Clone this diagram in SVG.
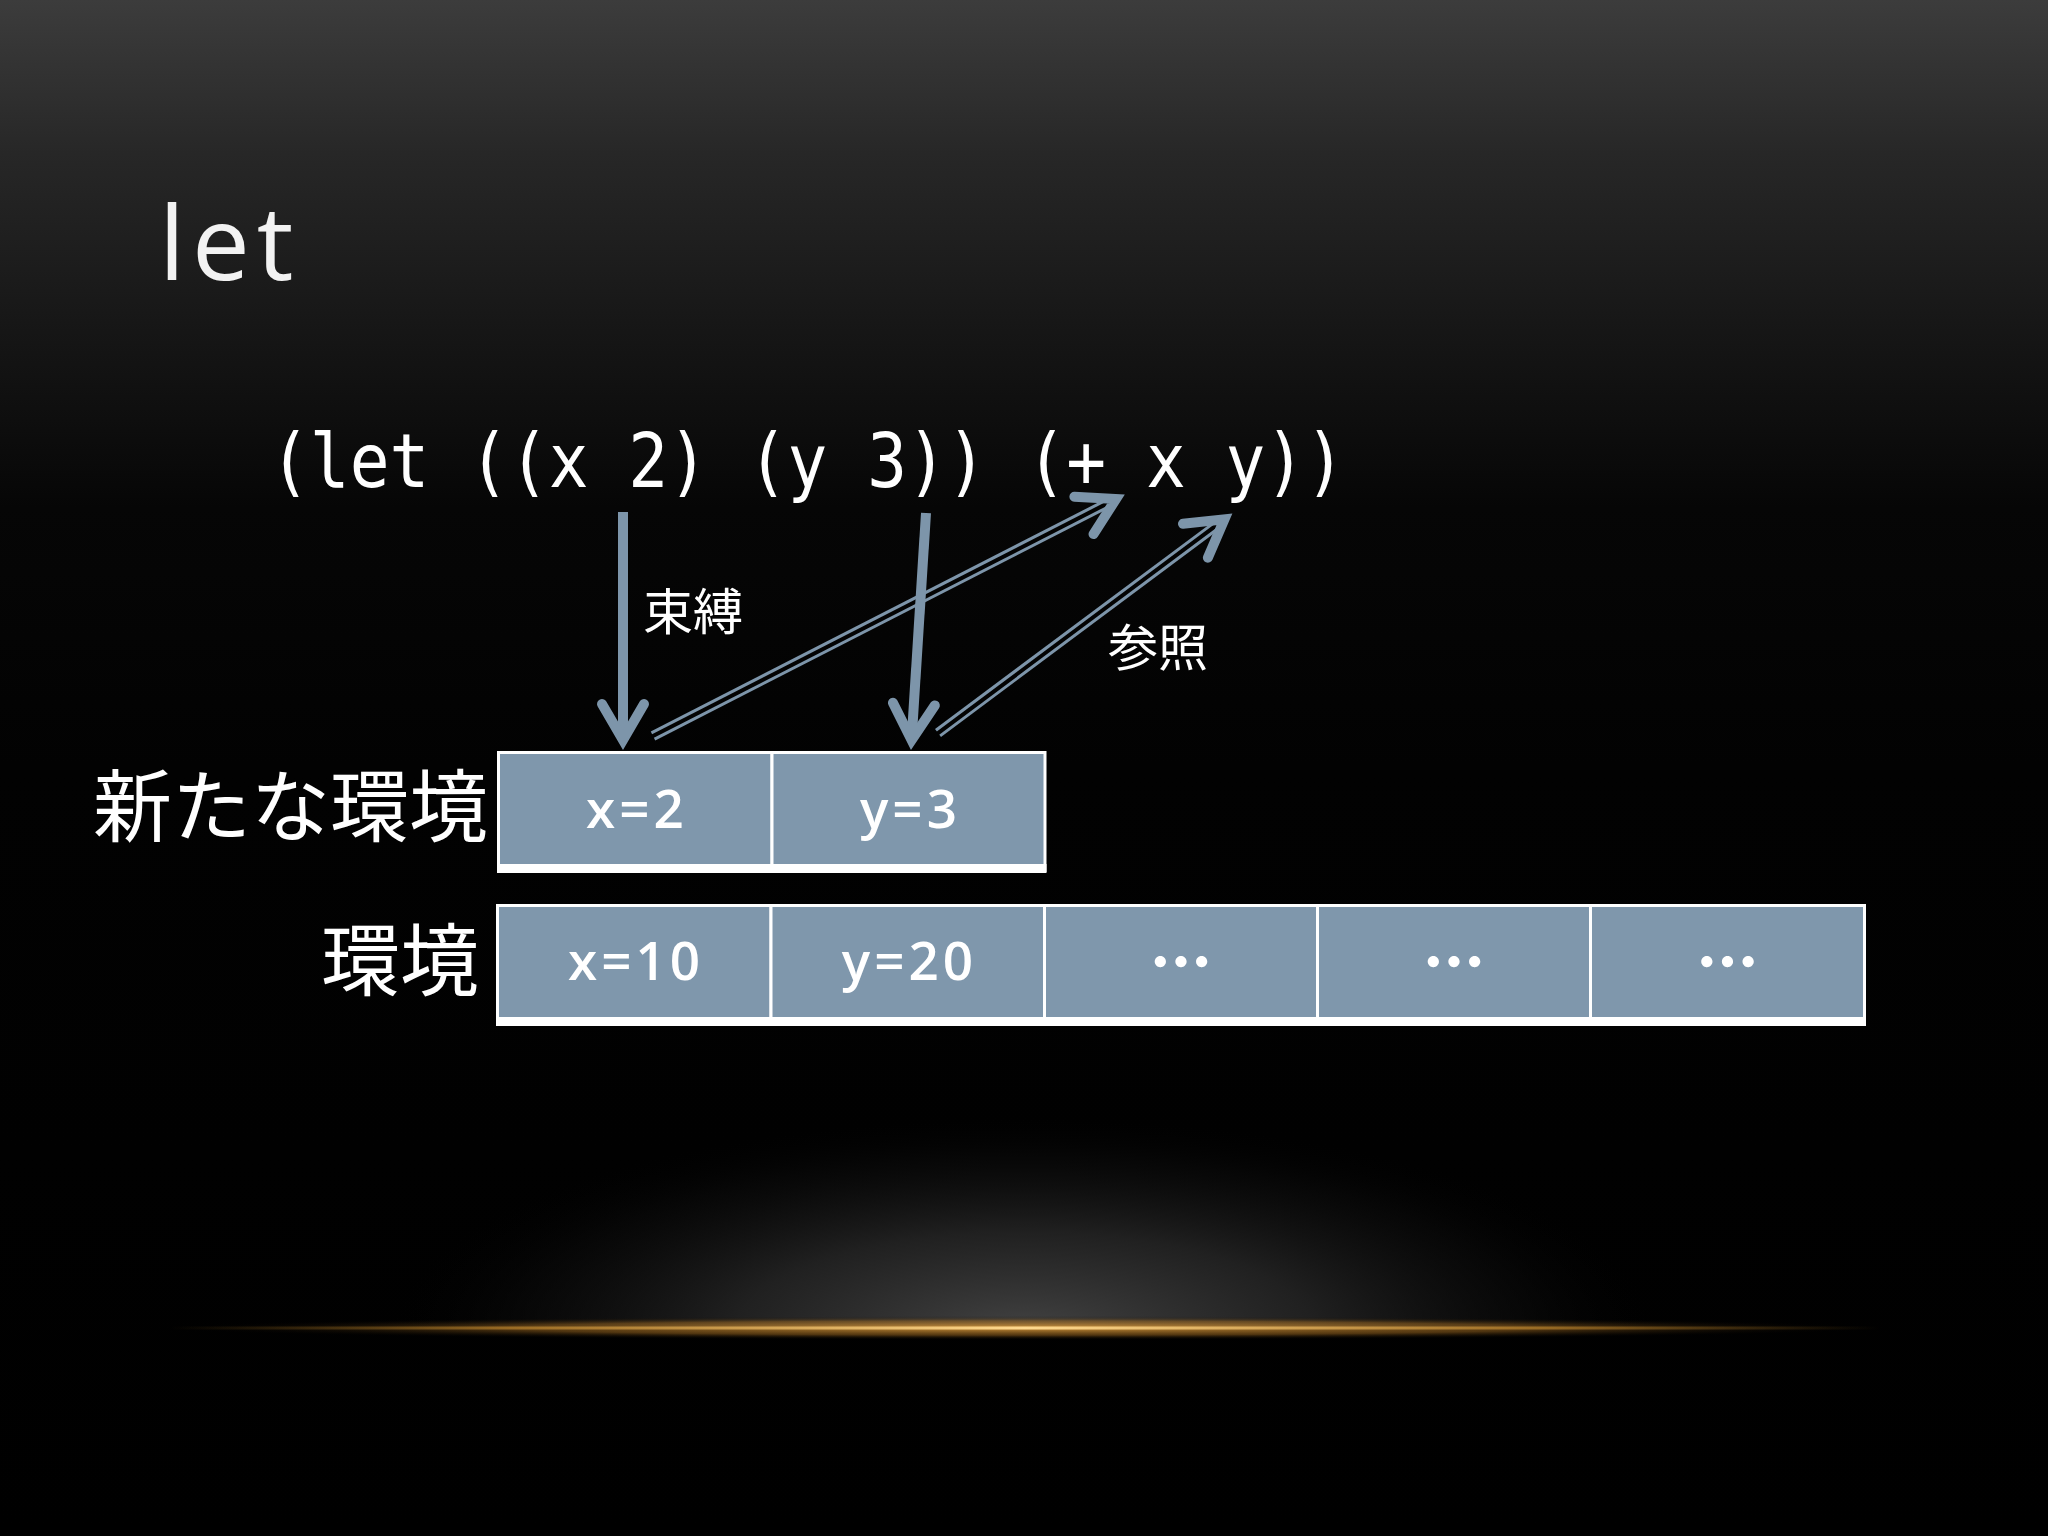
<svg xmlns="http://www.w3.org/2000/svg" width="2048" height="1536" viewBox="0 0 2048 1536">
<defs>
<linearGradient id="bg" x1="0" y1="0" x2="0" y2="1536" gradientUnits="userSpaceOnUse">
<stop offset="0" stop-color="#3c3c3c"/>
<stop offset="0.1" stop-color="#272727"/>
<stop offset="0.23" stop-color="#141414"/>
<stop offset="0.33" stop-color="#060606"/>
<stop offset="0.5" stop-color="#020202"/>
<stop offset="1" stop-color="#000000"/>
</linearGradient>
<radialGradient id="glow" cx="1024" cy="1330" r="640" gradientUnits="userSpaceOnUse" gradientTransform="translate(1024 1330) scale(1 0.34) translate(-1024 -1330)">
<stop offset="0" stop-color="#424242" stop-opacity="1"/>
<stop offset="0.45" stop-color="#262626" stop-opacity="0.85"/>
<stop offset="0.8" stop-color="#0c0c0c" stop-opacity="0.5"/>
<stop offset="1" stop-color="#000000" stop-opacity="0"/>
</radialGradient>
<linearGradient id="gold" x1="170" y1="0" x2="1880" y2="0" gradientUnits="userSpaceOnUse">
<stop offset="0" stop-color="#b07a20" stop-opacity="0"/>
<stop offset="0.2" stop-color="#c98e30" stop-opacity="0.6"/>
<stop offset="0.5" stop-color="#ffd98f" stop-opacity="1"/>
<stop offset="0.8" stop-color="#c98e30" stop-opacity="0.6"/>
<stop offset="1" stop-color="#b07a20" stop-opacity="0"/>
</linearGradient>
<radialGradient id="goldglow" cx="1024" cy="1328" r="860" gradientUnits="userSpaceOnUse" gradientTransform="translate(1024 1328) scale(1 0.014) translate(-1024 -1328)">
<stop offset="0" stop-color="#e0a040" stop-opacity="0.9"/>
<stop offset="0.6" stop-color="#a06a20" stop-opacity="0.5"/>
<stop offset="1" stop-color="#000000" stop-opacity="0"/>
</radialGradient>
<clipPath id="above"><rect x="0" y="0" width="2048" height="1328"/></clipPath>
<marker id="head" markerUnits="userSpaceOnUse" markerWidth="120" markerHeight="120" refX="0" refY="0" orient="auto" overflow="visible">
<path d="M-36,-21 L0,0 L-36,21" fill="none" stroke="#7d95aa" stroke-width="10" stroke-linecap="round" stroke-linejoin="miter" stroke-miterlimit="6"/>
</marker>
<style>
.title{font-family:"Open Sans","Noto Sans",sans-serif;font-weight:400;font-size:103px;letter-spacing:7px;fill:#f2f2f2}
.code{font-family:"DejaVu Sans Mono","Liberation Mono",monospace;font-size:74px;fill:#ffffff}
.lbl{font-family:"Noto Sans CJK JP","Noto Sans",sans-serif;fill:#ffffff}
.big{font-size:79px;text-anchor:end}
.small{font-size:50px}
.cell{fill:#7f97ac;stroke:#ffffff;stroke-width:3}
.band{fill:#ffffff}
.ct{font-family:"Open Sans","Noto Sans",sans-serif;font-weight:600;font-size:53px;letter-spacing:4px;fill:#ffffff;text-anchor:middle}
.dots{font-family:"Noto Sans CJK JP",sans-serif;font-weight:900;font-size:62px;fill:#ffffff;text-anchor:middle}
.bind{fill:none;stroke:#7d95aa;stroke-width:10}
.douter{fill:none;stroke:#7d95aa;stroke-width:10}
.dinner{fill:none;stroke:#030303;stroke-width:4}
</style>
</defs>

<rect x="0" y="0" width="2048" height="1536" fill="url(#bg)"/>
<g id="floor">
<ellipse cx="1024" cy="1330" rx="640" ry="218" fill="url(#glow)" clip-path="url(#above)"/>
<ellipse cx="1024" cy="1328" rx="860" ry="12" fill="url(#goldglow)"/>
<rect x="170" y="1326.5" width="1710" height="3" fill="url(#gold)"/>
</g>

<g id="title"><text class="title" x="159" y="280">let</text></g>

<g id="code"><text class="code" x="270" y="487" textLength="1075" lengthAdjust="spacingAndGlyphs">(let ((x 2) (y 3)) (+ x y))</text></g>

<g id="connectors">
<g id="ref-x">
<path class="douter" d="M653,736 L1116,499"/>
<path class="dinner" d="M652,736.5 L1109,502.6"/>
<path d="M1100,507.2 L1116,499" fill="none" stroke="none" marker-end="url(#head)"/>
</g>
<g id="ref-y">
<path class="douter" d="M938,733 L1224.4,519.4"/>
<path class="dinner" d="M937,733.8 L1218,524.2"/>
<path d="M1210,530 L1224.4,519.4" fill="none" stroke="none" marker-end="url(#head)"/>
</g>
<path id="bind-x" class="bind" d="M623,512 L623,740" marker-end="url(#head)"/>
<path id="bind-y" class="bind" d="M926,513 L911.6,740" marker-end="url(#head)"/>
</g>

<g id="label-bind"><text class="lbl small" x="643" y="630">束縛</text></g>
<g id="label-ref"><text class="lbl small" x="1108" y="666">参照</text></g>

<g id="label-new-env"><text class="lbl big" x="488" y="836">新たな環境</text></g>
<g id="label-env"><text class="lbl big" x="479" y="990">環境</text></g>

<g id="new-env">
<g id="cell-x2"><rect class="cell" x="498.5" y="752.5" width="273.5" height="118"/><text class="ct" x="637" y="828">x=2</text></g>
<g id="cell-y3"><rect class="cell" x="772" y="752.5" width="273" height="118"/><text class="ct" x="910.5" y="828">y=3</text></g>
<rect class="band" x="497" y="864" width="549.5" height="9"/>
</g>

<g id="env">
<g id="cell-x10"><rect class="cell" x="497.5" y="905.5" width="273.5" height="118"/><text class="ct" x="636" y="980">x=10</text></g>
<g id="cell-y20"><rect class="cell" x="771" y="905.5" width="273.5" height="118"/><text class="ct" x="909.5" y="980">y=20</text></g>
<g id="cell-e1"><rect class="cell" x="1044.5" y="905.5" width="273" height="118"/><text class="dots" x="1181" y="986">…</text></g>
<g id="cell-e2"><rect class="cell" x="1317.5" y="905.5" width="273" height="118"/><text class="dots" x="1454" y="986">…</text></g>
<g id="cell-e3"><rect class="cell" x="1590.5" y="905.5" width="274" height="118"/><text class="dots" x="1727.5" y="986">…</text></g>
<rect class="band" x="496" y="1017" width="1370" height="9"/>
</g>
</svg>
